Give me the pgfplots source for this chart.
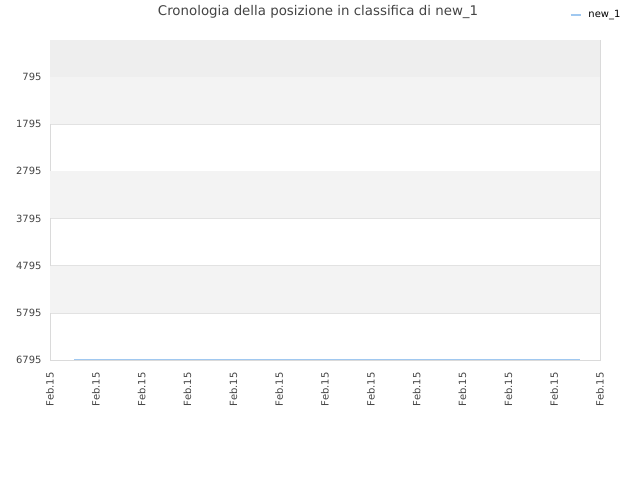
\documentclass[border=0pt]{standalone}
\usepackage{pgfplots}
\pgfplotsset{compat=1.18}
\usepackage{fontspec}
\setmainfont{DejaVu Sans}
\definecolor{bandA}{HTML}{EEEEEE}
\definecolor{bandB}{HTML}{F3F3F3}
\definecolor{gridc}{HTML}{E2E2E2}
\definecolor{boxc}{HTML}{DADADA}
\definecolor{txt}{HTML}{444444}
\definecolor{serie}{HTML}{A0C8F0}
\begin{document}
\begin{tikzpicture}
\path[use as bounding box] (0,0) rectangle (640bp,480bp);
\node[text=txt,font=\fontsize{13.4}{15}\selectfont] at (318bp,468bp) {Cronologia della posizione in classifica di new\_1};
\begin{axis}[
  at={(50bp,120bp)}, anchor=south west,
  scale only axis, width=550bp, height=320bp,
  xmin=0, xmax=12, ymin=11, ymax=6795,
  y dir=reverse,
  xtick={0,...,12},
  xticklabels={Feb.15,Feb.15,Feb.15,Feb.15,Feb.15,Feb.15,Feb.15,Feb.15,Feb.15,Feb.15,Feb.15,Feb.15,Feb.15},
  x tick label style={rotate=90, anchor=east, font=\fontsize{10}{11}\selectfont, text=txt},
  xticklabel shift=9bp,
  ytick={795,1795,2795,3795,4795,5795,6795},
  y tick label style={font=\fontsize{10}{11}\selectfont, text=txt},
  yticklabel shift=5bp,
  /pgf/number format/assume math mode=true,
  /pgf/number format/1000 sep={},
  major tick length=0pt,
  axis line style={boxc},
  ymajorgrids, grid style={gridc},
  legend style={at={(0.945,1.078)}, anchor=west, draw=none, fill=none,
    font=\fontsize{10}{11}\selectfont, legend cell align=left, inner sep=0pt,
    column sep=5bp},
  legend image code/.code={\draw[#1, line width=1.5pt] (0bp,0bp) -- (10bp,0bp);},
]
\fill[bandA] (axis cs:0,11) rectangle (axis cs:12,795);
\fill[bandB] (axis cs:0,795) rectangle (axis cs:12,1795);
\fill[bandB] (axis cs:0,2795) rectangle (axis cs:12,3795);
\fill[bandB] (axis cs:0,4795) rectangle (axis cs:12,5795);
\addplot[serie, line width=1.2pt] coordinates {
  (0.52,6780) (3,6780) (6,6780) (9,6780) (11.56,6780)
};
\addlegendentry{new\_1}
\end{axis}
\end{tikzpicture}
\end{document}
